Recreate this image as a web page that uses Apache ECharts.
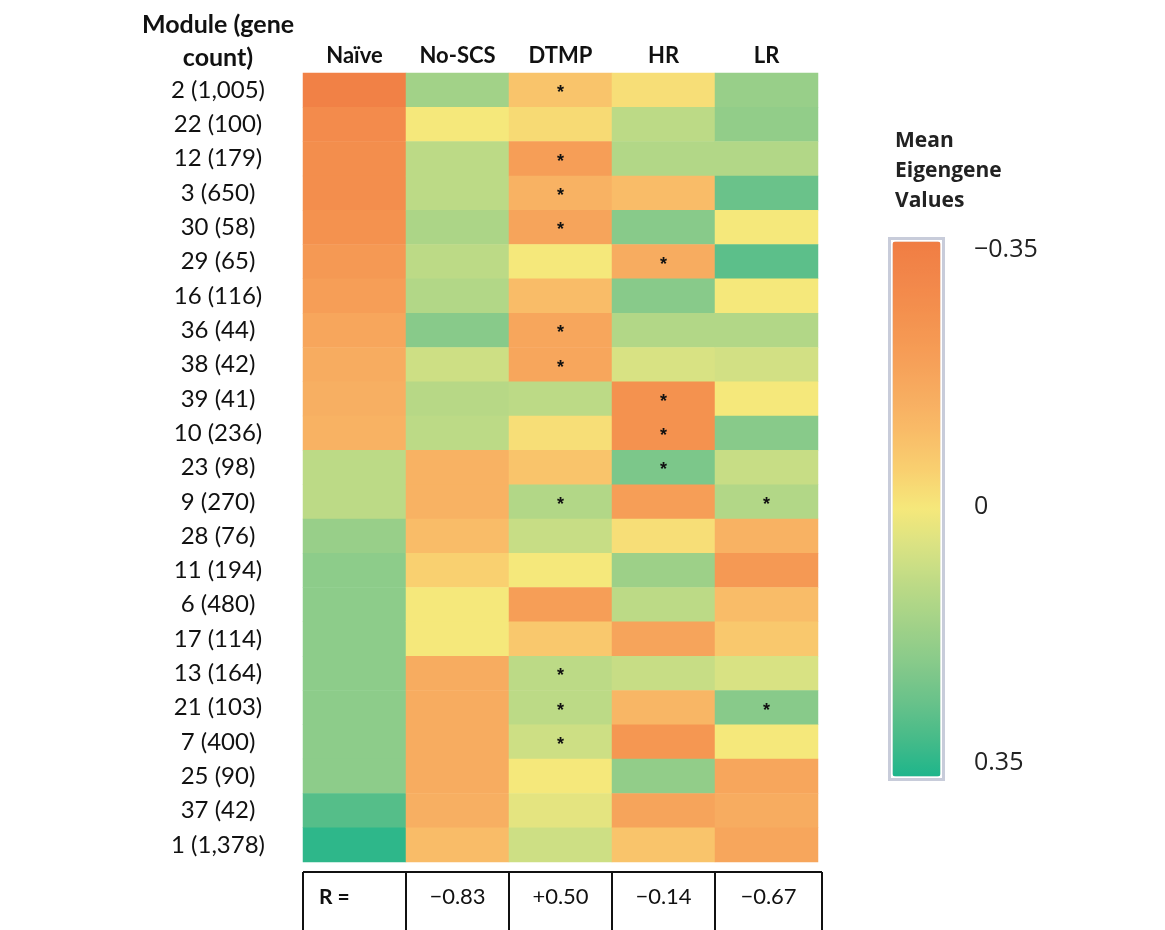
<!DOCTYPE html>
<html>
<head>
<meta charset="utf-8">
<script src="https://cdn.jsdelivr.net/npm/echarts@6/dist/echarts.min.js"></script>
<style>
html,body{margin:0;padding:0;background:#fff;}
#chart{width:1165px;height:930px;}
</style>
</head>
<body>
<div id="chart"></div>
<script>
// ---------- data ----------
const modules = ['2 (1,005)','22 (100)','12 (179)','3 (650)','30 (58)','29 (65)','16 (116)','36 (44)','38 (42)','39 (41)','10 (236)','23 (98)','9 (270)','28 (76)','11 (194)','6 (480)','17 (114)','13 (164)','21 (103)','7 (400)','25 (90)','37 (42)','1 (1,378)'];
const groups = ['Naïve','No-SCS','DTMP','HR','LR'];
const naive = [-0.33,-0.28,-0.27,-0.27,-0.25,-0.22,-0.20,-0.17,-0.15,-0.14,-0.13,0.10,0.10,0.17,0.19,0.19,0.19,0.19,0.19,0.19,0.19,0.28,0.33];
const noSCS = [0.15,0.00,0.10,0.10,0.13,0.10,0.12,0.20,0.07,0.11,0.10,-0.13,-0.13,-0.10,-0.05,0.00,0.00,-0.15,-0.15,-0.15,-0.15,-0.14,-0.10];
const dtmp  = [-0.08,-0.03,-0.20,-0.13,-0.18,0.00,-0.10,-0.17,-0.17,0.10,-0.02,-0.08,0.12,0.08,0.00,-0.20,-0.07,0.10,0.10,0.07,0.00,0.03,0.07];
const hr    = [-0.02,0.10,0.12,-0.10,0.20,-0.15,0.20,0.12,0.05,-0.25,-0.25,0.22,-0.20,-0.02,0.16,0.10,-0.18,0.08,-0.12,-0.23,0.18,-0.18,-0.08];
const lr    = [0.17,0.18,0.12,0.25,0.00,0.27,0.00,0.12,0.06,0.00,0.20,0.08,0.12,-0.13,-0.22,-0.10,-0.07,0.05,0.20,0.00,-0.17,-0.15,-0.17];
// significant cells (row indices) per column
const sigNaive = [];
const sigNoSCS = [];
const sigDTMP = [0,2,3,4,7,8,12,17,18,19];
const sigHR = [5,9,10,11];
const sigLR = [12,18];
const rLabel = 'R =';
const rValues = ['\u22120.83','+0.50','\u22120.14','\u22120.67'];
const scaleTicks = ['\u22120.35','0','0.35'];
const scaleMin = -0.35, scaleMax = 0.35;

// ---------- build ----------
const cols = [naive, noSCS, dtmp, hr, lr];
const sigs = [sigNaive, sigNoSCS, sigDTMP, sigHR, sigLR];
const data = [];
cols.forEach((arr, c) => arr.forEach((v, r) => {
  data.push({value: [c, r, v], sig: sigs[c].indexOf(r) >= 0});
}));

const gridLeft = 303, gridRight = 818, gridTop = 73, gridBottom = 862;
const cellW = (gridRight - gridLeft) / groups.length;

const labelFont = 'Lato, "Open Sans", sans-serif';
const scaleFont = '"Open Sans", "Noto Sans", sans-serif';

const graphics = [];
// header of row labels
graphics.push({type:'text', x: 218, y: 25, style:{text:'Module (gene', font:'bold 25px ' + labelFont, fill:'#111', align:'center', verticalAlign:'middle'}});
graphics.push({type:'text', x: 218, y: 58, style:{text:'count)', font:'bold 25px ' + labelFont, fill:'#111', align:'center', verticalAlign:'middle'}});
// colorbar title and ticks
graphics.push({type:'text', left: 895, top: 126, style:{text:'Mean\nEigengene\nValues', font:'bold 21px ' + scaleFont, fill:'#222', lineHeight: 30}});
const tickY = [250, 507, 763];
scaleTicks.forEach((t, i) => {
  graphics.push({type:'text', x: 974, y: tickY[i], style:{text:t, font:'25px ' + scaleFont, fill:'#222', verticalAlign:'middle'}});
});
// R table
const tTop = 872, tBottom = 960, tRight = 822;
const tCols = [gridLeft];
for (let i = 1; i <= groups.length - 1; i++) tCols.push(Math.round(gridLeft + cellW * i));
tCols.push(tRight);
graphics.push({type:'line', shape:{x1:tCols[0], y1:tTop, x2:tRight, y2:tTop}, style:{stroke:'#111', lineWidth:2}});
tCols.forEach(x => graphics.push({type:'line', shape:{x1:x, y1:tTop, x2:x, y2:tBottom}, style:{stroke:'#111', lineWidth:2}}));
graphics.push({type:'text', x: tCols[0] + 16, y: 897, style:{text:rLabel, font:'bold 21px ' + labelFont, fill:'#111', verticalAlign:'middle'}});
rValues.forEach((v, i) => {
  graphics.push({type:'text', x: (tCols[i+1] + tCols[i+2]) / 2, y: 897, style:{text:v, font:'22px ' + labelFont, fill:'#111', align:'center', verticalAlign:'middle'}});
});

const chart = echarts.init(document.getElementById('chart'), null, {renderer:'canvas'});
chart.setOption({
  backgroundColor: '#fff',
  animation: false,
  grid: {left: gridLeft, top: gridTop, width: gridRight - gridLeft, height: gridBottom - gridTop},
  xAxis: {
    type: 'category', data: groups, position: 'top',
    axisLine: {show:false}, axisTick: {show:false}, splitLine:{show:false},
    axisLabel: {color:'#111', fontWeight:'bold', fontSize:22, fontFamily: labelFont, margin: 6}
  },
  yAxis: {
    type: 'category', data: modules, inverse: true,
    axisLine: {show:false}, axisTick: {show:false}, splitLine:{show:false},
    axisLabel: {color:'#111', fontSize:24, fontFamily: labelFont, align:'center', margin: 85}
  },
  visualMap: {
    type: 'continuous', min: scaleMin, max: scaleMax, inverse: true,
    orient: 'vertical', left: 888, top: 237, itemWidth: 48, itemHeight: 535,
    padding: 3, borderColor: '#C8CCDA', borderWidth: 3,
    calculable: false, text: null, showLabel: false, hoverLink: false,
    textStyle: {color:'transparent'},
    inRange: {color: ['#F07D43','#F2874A','#F4924F','#F69E57','#F7AC60','#F9BC68','#F9D070','#F5E87B','#D8E283','#BCDA86','#A2D288','#88CA8A','#6AC28A','#47BB89','#1EB58B']}
  },
  series: [{
    type: 'heatmap', data: data,
    itemStyle: {borderWidth: 0},
    emphasis: {disabled: true},
    label: {
      show: true, color:'#111', fontSize: 18, fontWeight:'bold', offset:[0, 3],
      formatter: p => p.data.sig ? '*' : ''
    }
  }],
  graphic: graphics
});
</script>
</body>
</html>
